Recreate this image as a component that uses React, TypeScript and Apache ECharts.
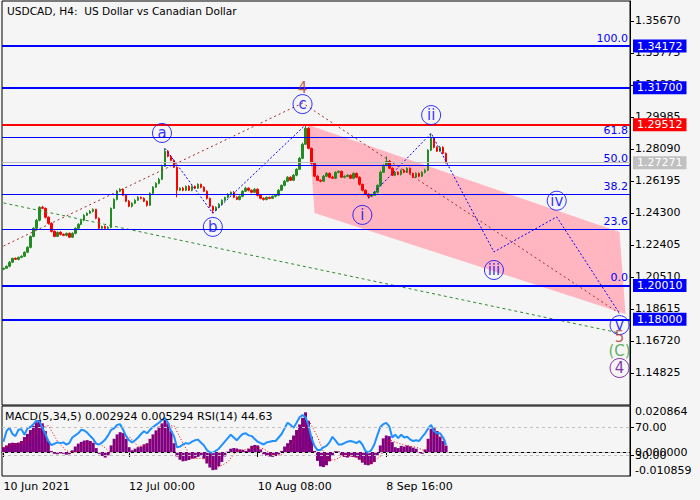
import React, { useEffect, useRef } from 'react';
import * as echarts from 'echarts';

const FONT = 'DejaVu Sans';

// ---- price data (H4 candles, grouped) ----
const firstOpen = 1.2096;
const closes = [
  1.2102, 1.2114, 1.2138, 1.2161, 1.2155, 1.2167, 1.2173, 1.2197, 1.2226, 1.2291,
  1.2339, 1.2386, 1.2463, 1.2457, 1.2404, 1.2368, 1.2321, 1.2291, 1.2315, 1.2303,
  1.2297, 1.2309, 1.2286, 1.2309, 1.2339, 1.2362, 1.2386, 1.2416, 1.2428, 1.2439,
  1.2451, 1.2398, 1.2339, 1.2350, 1.2339, 1.2344, 1.2457, 1.2510, 1.2558, 1.2570,
  1.2534, 1.2499, 1.2469, 1.2487, 1.2505, 1.2522, 1.2516, 1.2499, 1.2475, 1.2546,
  1.2582, 1.2605, 1.2629, 1.2706, 1.2795, 1.2765, 1.2741, 1.2700, 1.2564, 1.2576,
  1.2564, 1.2587, 1.2564, 1.2587, 1.2576, 1.2599, 1.2582, 1.2558, 1.2516, 1.2469,
  1.2445, 1.2463, 1.2481, 1.2505, 1.2522, 1.2540, 1.2552, 1.2522, 1.2510, 1.2528,
  1.2558, 1.2576, 1.2564, 1.2552, 1.2570, 1.2534, 1.2516, 1.2510, 1.2522, 1.2516,
  1.2528, 1.2534, 1.2564, 1.2593, 1.2617, 1.2641, 1.2623, 1.2653, 1.2688, 1.2753,
  1.2836, 1.2931, 1.2812, 1.2724, 1.2647, 1.2623, 1.2618, 1.2647, 1.2664, 1.2641,
  1.2635, 1.2670, 1.2676, 1.2641, 1.2646, 1.2653, 1.2635, 1.2664, 1.2641, 1.2599,
  1.2564, 1.2540, 1.2528, 1.2534, 1.2552, 1.2593, 1.2670, 1.2712, 1.2735, 1.2694,
  1.2653, 1.2670, 1.2658, 1.2682, 1.2670, 1.2694, 1.2664, 1.2641, 1.2664, 1.2647,
  1.2670, 1.2682, 1.2801, 1.2872, 1.2818, 1.2795, 1.2818, 1.2783, 1.27271,
];
const upperWickPips = [
  4, 5, 6, 3, 5, 4, 6, 5, 7, 5,
  6, 8, 6, 9, 4, 5, 6, 5, 4, 6,
  5, 4, 5, 6, 5, 7, 4, 6, 5, 8,
  6, 3, 5, 4, 6, 7, 5, 6, 8, 6,
  5, 4, 7, 5, 6, 8, 5, 6, 4, 5,
  7, 6, 8, 9, 17, 6, 5, 4, 5, 6,
  8, 5, 7, 6, 5, 6, 4, 5, 6, 4,
  5, 6, 7, 5, 4, 6, 5, 7, 6, 5,
  6, 8, 5, 4, 6, 5, 4, 6, 5, 4,
  5, 6, 7, 5, 8, 6, 5, 7, 6, 8,
  9, 20, 6, 5, 4, 6, 5, 7, 6, 5,
  8, 6, 5, 4, 7, 6, 5, 6, 4, 5,
  4, 5, 6, 5, 8, 6, 10, 5, 30, 6,
  5, 7, 6, 5, 8, 6, 5, 4, 6, 5,
  7, 9, 6, 29, 6, 5, 8, 6, 4,
];
const lowerWickPips = [
  5, 4, 6, 5, 4, 6, 5, 4, 5, 6,
  5, 4, 6, 5, 7, 5, 6, 5, 4, 6,
  5, 6, 4, 5, 6, 4, 5, 6, 5, 4,
  6, 5, 7, 5, 4, 6, 5, 4, 6, 5,
  4, 6, 5, 7, 5, 4, 6, 5, 8, 4,
  5, 4, 6, 5, 4, 6, 5, 4, 42, 5,
  6, 5, 4, 6, 5, 4, 6, 5, 7, 8,
  17, 5, 4, 6, 5, 4, 6, 5, 4, 6,
  5, 4, 6, 5, 4, 6, 5, 7, 6, 5,
  4, 6, 5, 4, 6, 5, 4, 5, 6, 4,
  5, 4, 6, 8, 6, 5, 7, 5, 4, 6,
  5, 4, 6, 5, 7, 5, 4, 6, 5, 7,
  6, 5, 12, 5, 4, 6, 5, 4, 6, 5,
  4, 6, 5, 7, 5, 4, 6, 5, 4, 6,
  5, 6, 4, 5, 6, 5, 4, 6, 5,
];

// ---- indicator data ----
const macdMain = [
  0.0022, 0.0030, 0.0040, 0.0042, 0.0041, 0.0043, 0.0050, 0.0068, 0.0082, 0.0100,
  0.0118, 0.0135, 0.0145, 0.0130, 0.0095, 0.0050, 0.0005, -0.0008, -0.0010, -0.0006,
  -0.0008, -0.0012, -0.0010, 0.0008, 0.0025, 0.0038, 0.0046, 0.0052, 0.0054, 0.0050,
  0.0042, 0.0018, -0.0008, -0.0018, -0.0025, -0.0015, 0.0030, 0.0060, 0.0080, 0.0090,
  0.0086, 0.0060, 0.0022, 0.0008, 0.0015, 0.0022, 0.0025, 0.0035, 0.0040, 0.0060,
  0.0080, 0.0098, 0.0115, 0.0130, 0.0145, 0.0130, 0.0095, 0.0040, -0.0020, -0.0035,
  -0.0042, -0.0040, -0.0036, -0.0030, -0.0028, -0.0022, -0.0018, -0.0030, -0.0052, -0.0070,
  -0.0082, -0.0080, -0.0065, -0.0045, -0.0020, 0.0002, 0.0015, 0.0018, 0.0016, 0.0012,
  0.0010, 0.0005, 0.0015, 0.0028, 0.0032, 0.0030, 0.0012, -0.0010, -0.0018, -0.0020,
  -0.0022, -0.0018, -0.0010, 0.0005, 0.0025, 0.0040, 0.0055, 0.0075, 0.0100, 0.0125,
  0.0155, 0.0180, 0.0140, 0.0070, 0.0005, -0.0040, -0.0065, -0.0068, -0.0060, -0.0042,
  -0.0015, 0.0004, 0.0003, -0.0015, -0.0022, -0.0025, -0.0020, -0.0022, -0.0025, -0.0035,
  -0.0048, -0.0058, -0.0060, -0.0055, -0.0045, -0.0015, 0.0030, 0.0062, 0.0075, 0.0072,
  0.0045, 0.0022, 0.0018, 0.0028, 0.0025, 0.0030, 0.0026, 0.0020, 0.0015, -0.0005,
  -0.0008, 0.0012, 0.0060, 0.0105, 0.0108, 0.0095, 0.0070, 0.0050, 0.002924,
];
const macdSignal = [
  [0, 0.0020], [3, 0.0032], [6, 0.0040], [9, 0.0060], [12, 0.0110], [15, 0.0120],
  [18, 0.0050], [21, 0.0005], [24, -0.0002], [27, 0.0030], [30, 0.0048], [33, 0.0030],
  [36, -0.0005], [39, 0.0060], [42, 0.0070], [45, 0.0025], [48, 0.0030], [51, 0.0070],
  [54, 0.0115], [57, 0.0120], [60, 0.0040], [63, -0.0030], [66, -0.0028], [69, -0.0040],
  [72, -0.0068], [75, -0.0045], [78, 0.0005], [81, 0.0012], [84, 0.0022], [87, 0.0015],
  [90, -0.0012], [93, -0.0012], [96, 0.0025], [99, 0.0080], [102, 0.0145], [105, 0.0070],
  [108, -0.0035], [111, -0.0035], [114, -0.0012], [117, -0.0020], [120, -0.0035], [123, -0.0052],
  [126, -0.0020], [129, 0.0055], [132, 0.0040], [135, 0.0028], [138, 0.0022], [141, 0.0005],
  [144, 0.0075], [148, 0.005294],
];
const rsi = [
  49, 64, 69, 60, 57, 66, 67, 59, 68, 70,
  74, 79, 78, 69, 60, 50, 44, 46, 48, 47,
  48, 45, 47, 55, 58, 61, 66, 65, 62, 57,
  53, 46, 45, 48, 52, 58, 66, 68, 73, 74,
  66, 57, 51, 48, 51, 55, 60, 64, 61, 66,
  70, 73, 76, 80, 83, 76, 65, 57, 41, 42,
  45, 47, 46, 49, 51, 52, 48, 44, 37, 34,
  33, 36, 39, 44, 49, 54, 59, 55, 51, 56,
  60, 61, 58, 57, 53, 49, 47, 45, 48, 49,
  50, 50, 55, 60, 68, 76, 73, 69, 76, 84,
  87, 84, 72, 54, 43, 37, 37, 41, 43, 48,
  56, 51, 45, 45, 47, 49, 50, 49, 47, 50,
  45, 36, 33, 37, 45, 58, 70, 74, 76, 71,
  55, 59, 54, 59, 55, 56, 52, 50, 51, 50,
  56, 61, 68, 73, 64, 61, 61, 55, 44.63,
];

// ---- axes ----
const slotCount = 210;
const xTickLabels = ['10 Jun 2021', '12 Jul 00:00', '10 Aug 08:00', '8 Sep 16:00'];
const xTickIndex = [0, 42, 85, 128];
const priceTicks = [1.14825, 1.1672, 1.18615, 1.2051, 1.22405, 1.243, 1.26195, 1.2809, 1.29985, 1.3188, 1.33775, 1.3567];
const priceMin = 1.1293;
const priceMax = 1.368411;
const macdTicks = [-0.010859, 0, 0.020864];
const rsiLevels = [30, 70];

// ---- horizontal levels ----
const levelPrices = [1.34172, 1.317, 1.29512, 1.27271, 1.2001, 1.18];
const levelLabels = ['1.34172', '1.31700', '1.29512', '1.27271', '1.20010', '1.18000'];
const levelColors = ['#0000FF', '#0000FF', '#FF0000', '#C0C0C0', '#0000FF', '#0000FF'];
const levelWidths = [2, 2, 2, 1, 2, 2];
const fibLabels = ['100.0', '61.8', '50.0', '38.2', '23.6', '0.0'];
const fibPrices = [1.34172, 1.28762, 1.27091, 1.2542, 1.23352, 1.2001];

// ---- wave drawings ----
const waveABC = [[54, 1.2812], [70, 1.2428], [101, 1.2951]];
const waveImpulse = [[122, 1.2516], [143, 1.2901], [164, 1.2199], [185, 1.2406], [206, 1.1835]];
const waveTrend = [[0, 1.2234], [100, 1.308], [206, 1.1835]];
const greenTrend = [[0, 1.2489], [206, 1.1719]];
const channel = [[102, 1.295], [206, 1.2317], [208, 1.1832], [104, 1.2429]];
const circledText = ['a', 'b', 'c', 'i', 'ii', 'iii', 'iv', 'v', '4'];
const circledIdx = [53, 70, 100, 120, 143, 164, 185, 206, 206];
const circledPrice = [1.2903, 1.2347, 1.3074, 1.2418, 1.3009, 1.2092, 1.2502, 1.1766, 1.1512];
const circledColor = ['#0000FF', '#0000FF', '#0000FF', '#0000FF', '#0000FF', '#0000FF', '#0000FF', '#0000FF', '#660099'];
const plainText = ['4', '5', '(C)'];
const plainIdx = [100, 206, 206];
const plainPrice = [1.3169, 1.1695, 1.1613];
const plainColor = ['#B23A2A', '#B23A2A', '#3A9A3A'];

export default function App() {
  const ref = useRef<HTMLDivElement>(null);
  useEffect(() => {
    if (!ref.current) return;
    const chart = echarts.init(ref.current, null, { renderer: 'svg' });

    const cats: string[] = [];
    for (let i = 0; i < slotCount; i++) cats.push('');
    xTickIndex.forEach((idx, k) => { cats[idx] = xTickLabels[k]; });
    const showTick = (index: number) => xTickIndex.indexOf(index) >= 0;

    const candles = closes.map((c, i) => {
      const o = i === 0 ? firstOpen : closes[i - 1];
      const hi = Math.max(o, c) + upperWickPips[i] * 0.0001;
      const lo = Math.min(o, c) - lowerWickPips[i] * 0.0001;
      return [o, c, lo, hi];
    });

    const txt = { fontFamily: FONT, fontSize: 11, color: '#000' };

    const option: any = {
      animation: false,
      backgroundColor: '#F5F5F5',
      textStyle: { fontFamily: FONT },
      title: [
        { text: 'USDCAD, H4:  US Dollar vs Canadian Dollar', left: 7, top: 5, padding: 0, textStyle: { ...txt, fontSize: 10.6, fontWeight: 'normal' } },
        { text: 'MACD(5,34,5) 0.002924 0.005294 RSI(14) 44.63', left: 5, top: 411, padding: 0, textStyle: { ...txt, fontWeight: 'normal' } },
      ],
      grid: [
        { left: 2, right: 70, top: 1, height: 404, show: true, borderColor: '#000', borderWidth: 1, backgroundColor: 'transparent' },
        { left: 2, right: 70, top: 406, height: 70, show: true, borderColor: '#000', borderWidth: 1, backgroundColor: 'transparent' },
      ],
      xAxis: [
        { type: 'category', gridIndex: 0, data: cats, boundaryGap: true, axisLine: { show: false }, axisTick: { show: false }, axisLabel: { show: false }, splitLine: { show: false } },
        {
          type: 'category', gridIndex: 1, data: cats, boundaryGap: true,
          axisLine: { show: true, lineStyle: { color: '#000' } },
          axisTick: { show: true, interval: showTick, alignWithLabel: true, length: 5, lineStyle: { color: '#000' } },
          axisLabel: { ...txt, interval: showTick, align: 'left', margin: 5 },
          splitLine: { show: false },
        },
      ],
      yAxis: [
        {
          type: 'value', gridIndex: 0, position: 'right', min: priceMin, max: priceMax,
          axisLine: { show: true, lineStyle: { color: '#000' } },
          axisTick: { show: true, length: 4, customValues: priceTicks, lineStyle: { color: '#000' } },
          axisLabel: { ...txt, customValues: priceTicks, margin: 5, formatter: (v: number) => v.toFixed(5) },
          splitLine: { show: false },
        },
        {
          type: 'value', gridIndex: 1, position: 'right', min: macdTicks[0], max: macdTicks[2],
          axisLine: { show: true, lineStyle: { color: '#000' } },
          axisTick: { show: false },
          axisLabel: { ...txt, customValues: macdTicks, margin: 5, verticalAlignMinLabel: 'bottom', verticalAlignMaxLabel: 'top', formatter: (v: number) => v.toFixed(6) },
          splitLine: { show: false },
        },
        {
          type: 'value', gridIndex: 1, position: 'right', min: 0, max: 100,
          axisLine: { show: false },
          axisTick: { show: true, length: 4, customValues: rsiLevels, lineStyle: { color: '#000' } },
          axisLabel: { ...txt, customValues: rsiLevels, margin: 5, formatter: (v: number) => v.toFixed(2) },
          splitLine: { show: false },
        },
      ],
      series: [
        {
          type: 'custom', xAxisIndex: 0, yAxisIndex: 0, z: 1, silent: true, data: [0],
          renderItem: (_p: any, api: any) => ({
            type: 'polygon',
            shape: { points: channel.map((pt) => api.coord(pt)) },
            style: { fill: '#FFB6C1' },
          }),
        },
        {
          type: 'candlestick', xAxisIndex: 0, yAxisIndex: 0, z: 2, data: candles, barWidth: 2,
          itemStyle: { color: '#228B22', color0: '#FF0000', borderColor: '#228B22', borderColor0: '#FF0000', borderWidth: 1 },
        },
        {
          type: 'line', xAxisIndex: 0, yAxisIndex: 0, z: 4, data: greenTrend, symbol: 'none', silent: true,
          lineStyle: { color: '#2E8B2E', width: 1, type: [3, 3] },
          markLine: {
            silent: true, symbol: ['none', 'none'], precision: 5,
            data: levelPrices.map((p, k) => ({
              yAxis: p,
              lineStyle: { color: levelColors[k], width: levelWidths[k], type: 'solid', opacity: 1 },
              label: { show: true, position: 'end', formatter: levelLabels[k], color: '#FFFFFF', backgroundColor: levelColors[k], padding: [1, 4, 0, 4], lineHeight: 12, fontSize: 11, fontFamily: FONT, distance: 3 },
            })),
          },
        },
        {
          type: 'line', xAxisIndex: 0, yAxisIndex: 0, z: 4, data: waveTrend, symbol: 'none', silent: true,
          lineStyle: { color: '#A52A2A', width: 1, type: [2, 3] },
          markLine: {
            silent: true, symbol: ['none', 'none'], precision: 5,
            lineStyle: { color: '#0000FF', width: 1, type: 'solid', opacity: 1 },
            data: fibPrices.map((p, k) => ({
              yAxis: p,
              lineStyle: { color: '#0000FF', width: 1, type: 'solid', opacity: 1 },
              label: { show: true, position: 'insideEndTop', formatter: fibLabels[k], color: '#0000FF', fontSize: 11, fontFamily: FONT, distance: 2 },
            })),
          },
        },
        {
          type: 'line', xAxisIndex: 0, yAxisIndex: 0, z: 4, data: waveABC, symbol: 'none', silent: true,
          lineStyle: { color: '#0000FF', width: 1, type: [2, 2] },
        },
        {
          type: 'line', xAxisIndex: 0, yAxisIndex: 0, z: 4, data: waveImpulse, symbol: 'none', silent: true,
          lineStyle: { color: '#0000FF', width: 1, type: [2, 2] },
        },
        {
          type: 'scatter', xAxisIndex: 0, yAxisIndex: 0, z: 6, symbol: 'circle', symbolSize: 19, silent: true,
          itemStyle: { color: 'rgba(0,0,0,0)', borderWidth: 1 },
          label: { show: true, position: 'inside', formatter: '{b}', fontSize: 15, fontFamily: FONT },
          data: circledText.map((t, k) => ({
            name: t, value: [circledIdx[k], circledPrice[k]],
            itemStyle: { borderColor: circledColor[k] },
            label: { color: circledColor[k] },
          })),
        },
        {
          type: 'scatter', xAxisIndex: 0, yAxisIndex: 0, z: 6, symbol: 'circle', symbolSize: 1, silent: true,
          itemStyle: { color: 'rgba(0,0,0,0)' },
          label: { show: true, position: 'inside', formatter: '{b}', fontSize: 15, fontFamily: FONT },
          data: plainText.map((t, k) => ({
            name: t, value: [plainIdx[k], plainPrice[k]],
            label: { color: plainColor[k] },
          })),
        },
        {
          type: 'bar', xAxisIndex: 1, yAxisIndex: 1, data: macdMain, barCategoryGap: '0%', silent: true,
          itemStyle: { color: '#800080' },
          markLine: {
            silent: true, symbol: ['none', 'none'], label: { show: false }, precision: 6,
            lineStyle: { color: '#C0C0C0', width: 1, type: [3, 3] },
            data: [{ yAxis: 0 }],
          },
        },
        {
          type: 'line', xAxisIndex: 1, yAxisIndex: 1, data: macdSignal, symbol: 'none', silent: true,
          lineStyle: { color: '#FF0000', width: 1, type: [1, 2] },
        },
        {
          type: 'line', xAxisIndex: 1, yAxisIndex: 2, data: rsi, symbol: 'none', silent: true,
          lineStyle: { color: '#1E90FF', width: 2 },
          markLine: {
            silent: true, symbol: ['none', 'none'], label: { show: false },
            lineStyle: { color: '#C0C0C0', width: 1, type: [3, 3] },
            data: rsiLevels.map((v) => ({ yAxis: v })),
          },
        },
      ],
    };

    chart.setOption(option);
    return () => chart.dispose();
  }, []);

  return <div ref={ref} style={{ position: 'fixed', left: 0, top: 0, width: 700, height: 500 }} />;
}
